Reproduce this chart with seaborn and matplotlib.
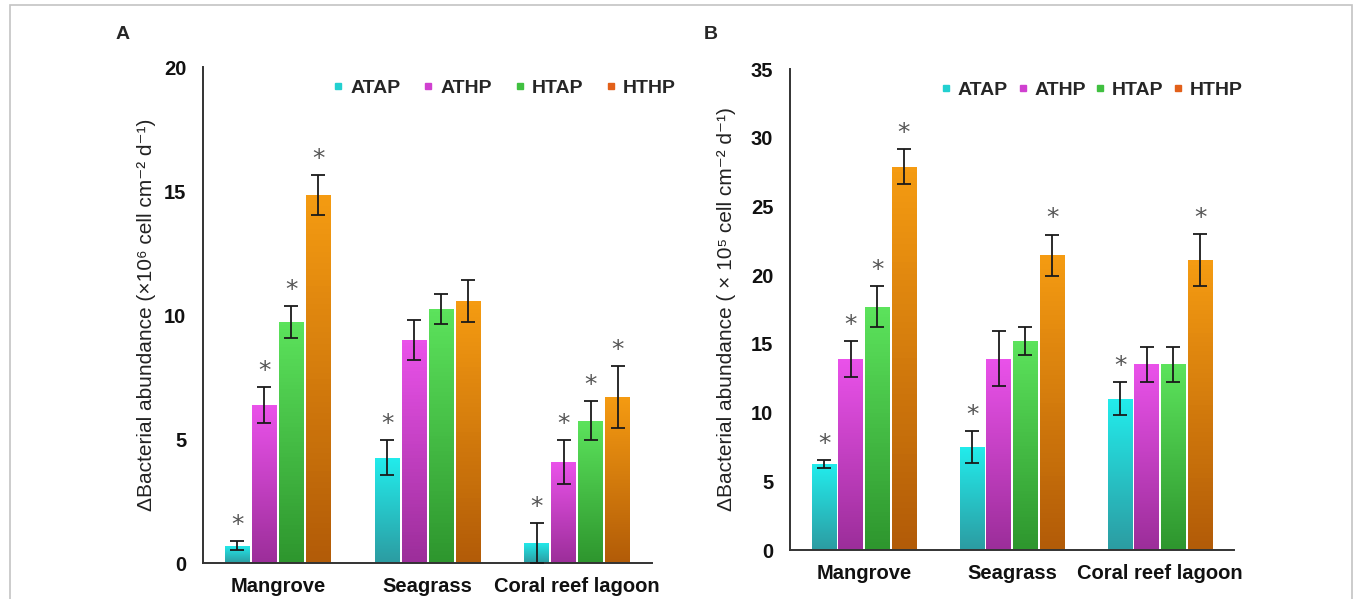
import numpy as np
import pandas as pd
import seaborn as sns
import matplotlib
matplotlib.use("Agg")
import matplotlib.pyplot as plt
from matplotlib.colors import LinearSegmentedColormap
from matplotlib.lines import Line2D
from matplotlib.patches import Rectangle

# data
sites = ["Mangrove", "Seagrass", "Coral reef lagoon"]
treatments = ["ATAP", "ATHP", "HTAP", "HTHP"]

# panel A (x10^6 cell cm-2 d-1)
a_atap = [0.70, 4.25, 0.82]
a_athp = [6.37, 9.00, 4.08]
a_htap = [9.72, 10.25, 5.74]
a_hthp = [14.85, 10.55, 6.70]
a_atap_err = [0.17, 0.72, 0.80]
a_athp_err = [0.72, 0.80, 0.88]
a_htap_err = [0.65, 0.60, 0.80]
a_hthp_err = [0.80, 0.85, 1.25]
a_stars = [[1, 1, 1], [1, 0, 1], [1, 0, 1], [1, 0, 1]]

# panel B (x10^5 cell cm-2 d-1)
b_atap = [6.25, 7.50, 11.0]
b_athp = [13.9, 13.9, 13.5]
b_htap = [17.7, 15.2, 13.5]
b_hthp = [27.9, 21.45, 21.1]
b_atap_err = [0.30, 1.15, 1.20]
b_athp_err = [1.30, 2.00, 1.30]
b_htap_err = [1.50, 1.00, 1.30]
b_hthp_err = [1.30, 1.50, 1.90]
b_stars = [[1, 1, 1], [1, 0, 0], [1, 0, 0], [1, 1, 1]]

top_colors = ["#22ecec", "#ea52ea", "#5ce35c", "#f59b12"]
bot_colors = ["#2c9ca2", "#9c2e9a", "#2e962e", "#b25c08"]
legend_colors = ["#22d0d0", "#d040d0", "#40c040", "#e2601a"]

sns.set_style("white")
plt.rcParams["font.family"] = ["Liberation Sans", "DejaVu Sans"]
plt.rcParams["axes.linewidth"] = 1.4

fig = plt.figure(figsize=(13.6, 5.99), dpi=100)


def panel(rect, vals, errs, stars, ymax, ylabel, letter, letter_xy, leg_xy, leg_spacing, label_x):
    ax = fig.add_axes(rect)
    df = pd.DataFrame({
        "site": np.repeat([sites], 4, axis=0).ravel(),
        "treatment": np.repeat(treatments, 3),
        "value": np.concatenate(vals),
    })
    sns.barplot(data=df, x="site", y="value", hue="treatment", order=sites,
                hue_order=treatments, palette=top_colors, width=0.72, gap=0.08,
                errorbar=None, legend=False, ax=ax, linewidth=0)
    for cont, ct, cb, v, e, s in zip(ax.containers, top_colors, bot_colors, vals, errs, stars):
        cmap = LinearSegmentedColormap.from_list("g", [cb, ct])
        xs = []
        for bar in cont:
            x0, w, h = bar.get_x(), bar.get_width(), bar.get_height()
            im = ax.imshow(np.linspace(0, 1, 64).reshape(-1, 1), extent=[x0, x0 + w, 0, h],
                           origin="lower", cmap=cmap, aspect="auto", zorder=2)
            im.set_clip_path(bar)
            bar.set_facecolor("none")
            xs.append(x0 + w / 2)
        ax.errorbar(xs, v, yerr=e, fmt="none", ecolor="#1a1a1a", elinewidth=1.3,
                    capsize=5, capthick=1.3, zorder=3)
        for x, y, er, flag in zip(xs, v, e, s):
            if flag:
                ax.annotate("*", (x, y + er), xytext=(0, 3), textcoords="offset points",
                            ha="center", va="bottom", fontsize=18, color="#555555",
                            family="DejaVu Sans")
    ax.set_xlim(-0.5, 2.5)
    ax.set_ylim(0, ymax)
    ax.set_yticks(np.arange(0, ymax + 1, 5))
    ax.set_xticks([-0.5, 0.5, 1.5, 2.5], minor=True)
    ax.tick_params(axis="x", which="major", length=0, pad=10)
    ax.tick_params(axis="x", which="minor", length=6, width=1.3, direction="out", colors="#333333")
    ax.tick_params(axis="y", length=6, width=1.3, direction="out", pad=6, colors="#333333")
    for lab in ax.get_xticklabels() + ax.get_yticklabels():
        lab.set_fontsize(14.5)
        lab.set_fontweight("bold")
        lab.set_color("#111111")
    sns.despine(ax=ax)
    for sp in ("left", "bottom"):
        ax.spines[sp].set_color("#333333")
    ax.set_xlabel("")
    ax.set_ylabel(ylabel, fontsize=15, color="#222222")
    ax.yaxis.set_label_coords(label_x, 0.5)
    handles = [Line2D([], [], marker="s", linestyle="none", markersize=5, color=c)
               for c in legend_colors]
    ax.legend(handles, treatments, ncol=4, frameon=False, loc="center",
              bbox_to_anchor=leg_xy, bbox_transform=fig.transFigure,
              prop={"weight": "bold", "size": 14}, handlelength=0.5,
              handletextpad=0.35, columnspacing=leg_spacing, borderpad=0)
    fig.text(letter_xy[0], letter_xy[1], letter, fontsize=14, fontweight="bold",
             ha="center", va="center")
    return ax


panel([0.1493, 0.0601, 0.3301, 0.828],
      [a_atap, a_athp, a_htap, a_hthp],
      [a_atap_err, a_athp_err, a_htap_err, a_hthp_err], a_stars, 20,
      "\u0394Bacterial abundance (\u00d710\u2076 cell cm\u207b\u00b2 d\u207b\u00b9)",
      "A", (0.0904, 0.9416), (0.371, 0.853), 1.2, -0.105)

panel([0.5809, 0.0818, 0.3265, 0.803],
      [b_atap, b_athp, b_htap, b_hthp],
      [b_atap_err, b_athp_err, b_htap_err, b_hthp_err], b_stars, 35,
      "\u0394Bacterial abundance ( \u00d7 10\u2075 cell cm\u207b\u00b2 d\u207b\u00b9)",
      "B", (0.5228, 0.9416), (0.803, 0.850), 0.5, -0.122)

fig.patches.append(Rectangle((10 / 1360, -0.02), 1342 / 1360, 1.02 - 5 / 599,
                             transform=fig.transFigure, fill=False,
                             edgecolor="#c4c4c4", linewidth=1.2))

fig.savefig("out.png", dpi=100)
